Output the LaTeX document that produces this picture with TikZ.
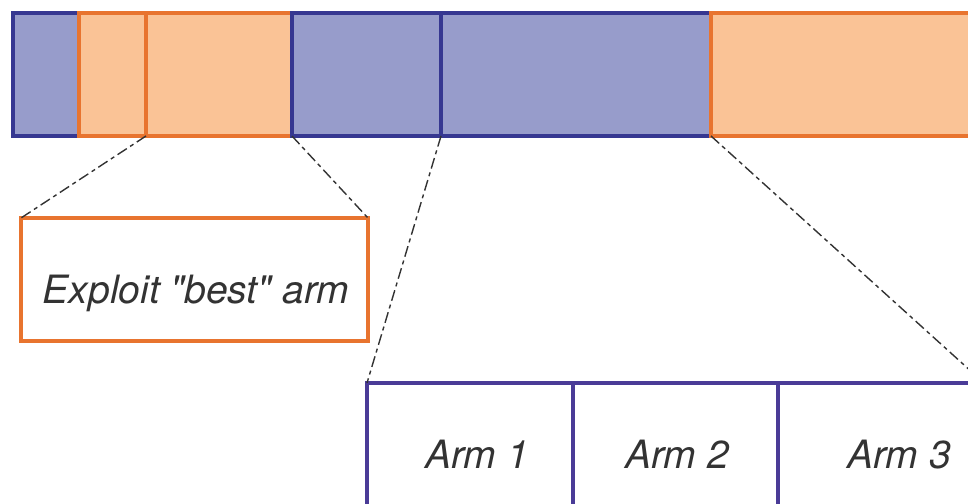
\documentclass[tikz,border=0pt]{standalone}
\usepackage{fontspec}
\setmainfont{TeX Gyre Heros}
\begin{document}
\begin{tikzpicture}[x=1pt,y=-1pt,
  seg/.style={draw, line width=4pt, inner sep=0pt, outer sep=0pt, anchor=north west,
              minimum height=123pt},
  orangeseg/.style={seg, draw=barorange, fill=fillorange},
  blueseg/.style={seg, draw=barblue, fill=fillblue},
  zoombox/.style={draw, line width=4pt, fill=white, inner sep=0pt, outer sep=0pt,
                  anchor=north west},
  boxtext/.style={font=\itshape\fontsize{39}{44}\selectfont, text=textgray,
                  inner sep=0pt, anchor=base},
  guide/.style={draw=guidegray, line width=1.4pt,
                dash pattern=on 11pt off 4pt on 4pt off 4pt}]
  \definecolor{barblue}{HTML}{363791}
  \definecolor{fillblue}{HTML}{979CCB}
  \definecolor{barorange}{HTML}{E8742F}
  \definecolor{fillorange}{HTML}{FAC396}
  \definecolor{armblue}{HTML}{4A3B97}
  \definecolor{textgray}{HTML}{333333}
  \definecolor{guidegray}{HTML}{333333}

  \path[use as bounding box] (0,0) rectangle (968,503);
  \clip (0,0) rectangle (968,503);

  % timeline of rounds
  \node[blueseg,   minimum width=66pt]  (s1) at (13,13)  {};
  \node[orangeseg, minimum width=67pt]  (s2) at (79,13)  {};
  \node[orangeseg, minimum width=146pt] (s3) at (146,13) {};
  \node[blueseg,   minimum width=149pt] (s4) at (292,13) {};
  \node[blueseg,   minimum width=270pt] (s5) at (441,13) {};
  \node[orangeseg, minimum width=320pt] (s6) at (711,13) {};

  % exploitation detail
  \node[zoombox, draw=barorange, minimum width=347pt, minimum height=123pt] (ex) at (21,218) {};
  \node[boxtext] (ext) at (196,303) {Exploit \textquotedbl best\textquotedbl{} arm};

  % exploration detail
  \node[zoombox, draw=armblue, minimum width=206pt, minimum height=140pt] (a1) at (367,383) {};
  \node[zoombox, draw=armblue, minimum width=205pt, minimum height=140pt] (a2) at (573,383) {};
  \node[zoombox, draw=armblue, minimum width=206pt, minimum height=140pt] (a3) at (778,383) {};
  \node[boxtext] (a1t) at (477,468) {Arm 1};
  \node[boxtext] (a2t) at (677,468) {Arm 2};
  \node[boxtext] (a3t) at (899,468) {Arm 3};

  % zoom guides
  \draw[guide] (s3.south west) -- (ex.north west);
  \draw[guide] (s3.south east) -- (ex.north east);
  \draw[guide] (s5.south west) -- (a1.north west);
  \draw[guide] (s6.south west) -- (a3.north east);
\end{tikzpicture}
\end{document}
